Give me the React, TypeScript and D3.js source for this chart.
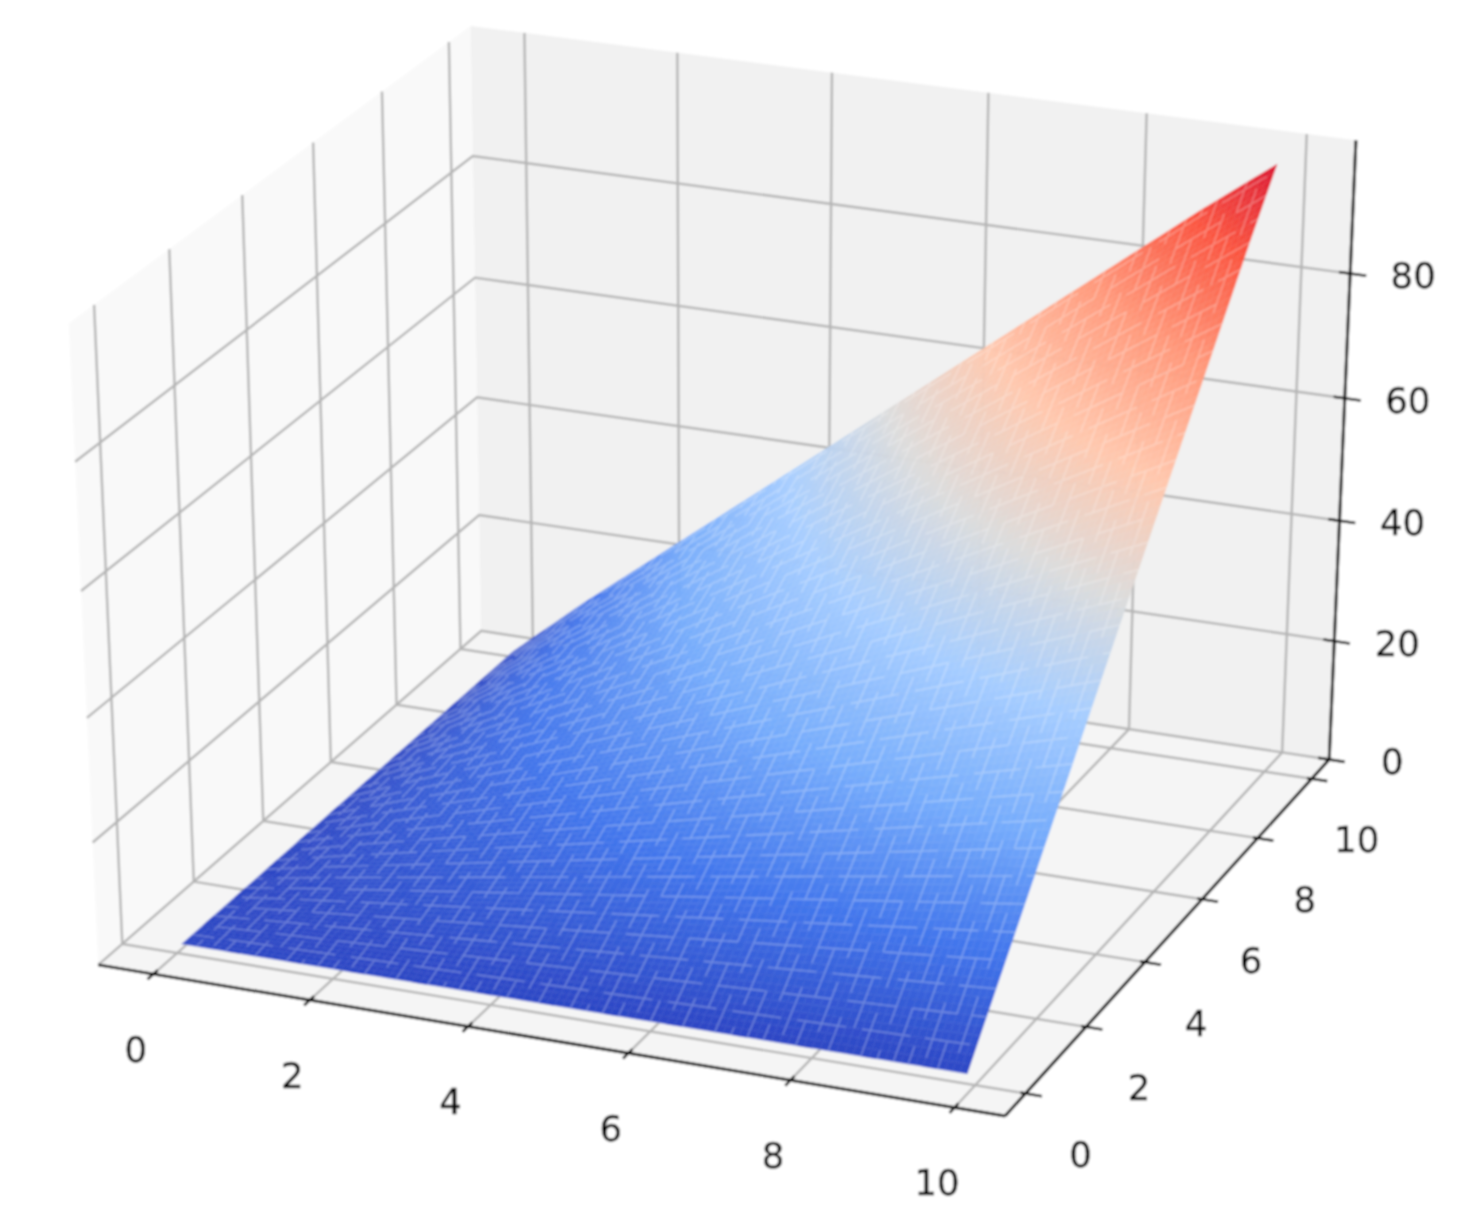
import React, { useEffect, useRef } from 'react';
import * as d3 from 'd3';

const xTicks = [0, 2, 4, 6, 8, 10];
const yTicks = [0, 2, 4, 6, 8, 10];
const zTicks = [0, 20, 40, 60, 80];
const meshX = [0.06, 1, 2, 3, 4, 5, 6, 7, 8, 9, 9.9];
const meshY = [0, 1, 2, 3, 4, 5, 6, 7, 8, 9, 9.9];
// height read at each mesh node, rows are y, columns are x
const meshZ = [
  [0, 0, 0, 0, 0, 0, 0, 0, 0, 0, 0],
  [0, 1, 2, 3, 4, 5, 6, 7, 8, 9, 9.9],
  [0, 2, 4, 6, 8, 10, 12, 14, 16, 18, 19.8],
  [0, 3, 6, 9, 12, 15, 18, 21, 24, 27, 29.7],
  [0, 4, 8, 12, 16, 20, 24, 28, 32, 36, 39.6],
  [0, 5, 10, 15, 20, 25, 30, 35, 40, 45, 49.5],
  [0, 6, 12, 18, 24, 30, 36, 42, 48, 54, 59.4],
  [0, 7, 14, 21, 28, 35, 42, 49, 56, 63, 69.3],
  [0, 8, 16, 24, 32, 40, 48, 56, 64, 72, 79.2],
  [0, 9, 18, 27, 36, 45, 54, 63, 72, 81, 89.1],
  [0, 9.9, 19.8, 29.7, 39.6, 49.5, 59.4, 69.3, 79.2, 89.1, 97.6],
];
const colorStops = ['#2c46c4', '#4276ec', '#76acfc', '#a6cdff', '#dcdcdc', '#ffc8ae', '#ff9a7c', '#fb5540', '#d40a30'];

const xDomain = [-0.71, 10.61];
const yDomain = [-0.66, 10.66];
const zDomain = [0, 101];
// the sheet floats a little above the floor in the picture
const surfaceLift = 1.6;

// camera and screen fit, matched to the corners of the box in the picture
const view = { elev: 28, azim: -68, dist: 10, boxZ: 0.95, sx: 9661.26, tx: 728.41, sy: -7508.11, ty: 551.74 };

const makeCamera = ({ elev, azim, dist, boxZ }) => {
  const e = (elev * Math.PI) / 180;
  const a = (azim * Math.PI) / 180;
  const n = [Math.cos(e) * Math.cos(a), Math.cos(e) * Math.sin(a), Math.sin(e)];
  const u = [-Math.sin(a), Math.cos(a), 0];
  const v = [n[1] * u[2] - n[2] * u[1], n[2] * u[0] - n[0] * u[2], n[0] * u[1] - n[1] * u[0]];
  return (q) => {
    const p = [q[0], q[1], q[2] * boxZ];
    const d = dist - (n[0] * p[0] + n[1] * p[1] + n[2] * p[2]);
    return [
      (u[0] * p[0] + u[1] * p[1]) / d,
      (v[0] * p[0] + v[1] * p[1] + v[2] * p[2]) / d,
      d,
    ];
  };
};

const App = () => {
  const svgRef = useRef();

  useEffect(() => {
    const svg = d3.select(svgRef.current);
    svg.selectAll('*').remove();

    const cam = makeCamera(view);

    const xScale = d3.scaleLinear().domain(xDomain).range([-0.5, 0.5]);
    const yScale = d3.scaleLinear().domain(yDomain).range([-0.5, 0.5]);
    const zScale = d3.scaleLinear().domain(zDomain).range([-0.5, 0.5]);
    const project = (x, y, z) => {
      const p = cam([xScale(x), yScale(y), zScale(z)]);
      return [view.sx * p[0] + view.tx, view.sy * p[1] + view.ty, p[2]];
    };

    const color = d3.scaleLinear()
      .domain(colorStops.map((_, i) => (i * 100) / (colorStops.length - 1)))
      .range(colorStops)
      .interpolate(d3.interpolateRgb);

    const line = d3.line();
    const path = (pts, closed) => line(pts.map((p) => project(p[0], p[1], p[2]))) + (closed ? 'Z' : '');

    const defs = svg.append('defs');
    defs.append('filter').attr('id', 'soft').attr('x', 0).attr('y', 0).attr('width', 1).attr('height', 1)
      .append('feGaussianBlur').attr('stdDeviation', 0.9);

    const g = svg.append('g').attr('filter', 'url(#soft)');
    g.append('rect').attr('width', 1465).attr('height', 1211).attr('fill', '#fff');

    const [x0, x1] = xDomain;
    const [y0, y1] = yDomain;
    const [z0, z1] = zDomain;

    // panes
    g.append('path').attr('d', path([[x0, y0, z0], [x0, y1, z0], [x0, y1, z1], [x0, y0, z1]], true)).attr('fill', '#f9f9f9');
    g.append('path').attr('d', path([[x0, y1, z0], [x1, y1, z0], [x1, y1, z1], [x0, y1, z1]], true)).attr('fill', '#f1f1f1');
    g.append('path').attr('d', path([[x0, y0, z0], [x1, y0, z0], [x1, y1, z0], [x0, y1, z0]], true)).attr('fill', '#f5f5f5');

    // grid
    const gridLines = [
      ...xTicks.map((t) => [[t, y0, z0], [t, y1, z0], [t, y1, z1]]),
      ...yTicks.map((t) => [[x1, t, z0], [x0, t, z0], [x0, t, z1]]),
      ...zTicks.map((t) => [[x1, y1, t], [x0, y1, t], [x0, y0, t]]),
    ];
    g.selectAll('.grid').data(gridLines).enter().append('path')
      .attr('class', 'grid')
      .attr('d', (d) => path(d, false))
      .attr('fill', 'none')
      .attr('stroke', '#b4b4b4')
      .attr('stroke-width', 2.4);

    // surface, each mesh cell is cut finer so the colour runs smoothly across it
    const steps = 10;
    const cells = [];
    const seams = [];
    for (let j = 0; j < meshY.length - 1; j += 1) {
      for (let i = 0; i < meshX.length - 1; i += 1) {
        const xs = d3.scaleLinear().domain([0, steps]).range([meshX[i], meshX[i + 1]]);
        const ys = d3.scaleLinear().domain([0, steps]).range([meshY[j], meshY[j + 1]]);
        const node = (a, b) => {
          const low = d3.interpolateNumber(meshZ[j][i], meshZ[j][i + 1])(a / steps);
          const high = d3.interpolateNumber(meshZ[j + 1][i], meshZ[j + 1][i + 1])(a / steps);
          return [xs(a), ys(b), d3.interpolateNumber(low, high)(b / steps) + surfaceLift];
        };
        for (let b = 0; b < steps; b += 1) {
          for (let a = 0; a < steps; a += 1) {
            const corners = [node(a, b), node(a + 1, b), node(a + 1, b + 1), node(a, b + 1)];
            const mid = d3.mean(corners, (c) => c[2]) - surfaceLift;
            const depth = d3.mean(corners, (c) => project(c[0], c[1], c[2])[2]);
            cells.push({ corners, mid, depth });
            // light broken lines along the cell edges
            const A = i * steps + a;
            const B = j * steps + b;
            if (B % 3 === 0 && (A + B) % 8 < 6) seams.push([corners[0], corners[1]]);
            if (A % 2 === 0 && (B + A * 2) % 9 < 6) seams.push([corners[0], corners[3]]);
          }
        }
      }
    }
    cells.sort((a, b) => b.depth - a.depth);
    g.append('g').selectAll('path').data(cells).enter().append('path')
      .attr('d', (d) => path(d.corners, true))
      .attr('fill', (d) => color(d.mid))
      .attr('stroke', (d) => color(d.mid))
      .attr('stroke-width', 0.3);
    g.append('path')
      .attr('d', seams.map((s) => path(s, false)).join(''))
      .attr('fill', 'none')
      .attr('stroke', '#fff')
      .attr('stroke-opacity', 0.24)
      .attr('stroke-width', 1.8);

    // axes
    const axisLines = [
      [[x0, y0, z0], [x1, y0, z0]],
      [[x1, y0, z0], [x1, y1, z0]],
      [[x1, y1, z0], [x1, y1, z1]],
    ];
    g.selectAll('.axis').data(axisLines).enter().append('path')
      .attr('class', 'axis')
      .attr('d', (d) => path(d, false))
      .attr('fill', 'none')
      .attr('stroke', '#000')
      .attr('stroke-width', 3);

    const tickLines = [
      ...xTicks.map((t) => [[t, y0 + 0.12, z0], [t, y0 - 0.16, z0]]),
      ...yTicks.map((t) => [[x1 - 0.06, t, z0], [x1 + 0.2, t, z0]]),
      ...zTicks.map((t) => [[x1 - 0.14, y1, t], [x1 + 0.2, y1, t]]),
    ];
    g.selectAll('.tick').data(tickLines).enter().append('path')
      .attr('class', 'tick')
      .attr('d', (d) => path(d, false))
      .attr('stroke', '#000')
      .attr('stroke-width', 2.6);

    const labels = [
      ...xTicks.map((t) => ({ t, p: project(t, y0, z0), dx: -17.5, dy: 75 })),
      ...yTicks.map((t) => ({ t, p: project(x1, t, z0), dx: 55 - t, dy: 61 })),
      ...zTicks.map((t) => ({ t, p: project(x1, y1, t), dx: 63, dy: 2 })),
    ];
    g.selectAll('.label').data(labels).enter().append('text')
      .attr('class', 'label')
      .attr('x', (d) => d.p[0] + d.dx)
      .attr('y', (d) => d.p[1] + d.dy)
      .attr('text-anchor', 'middle')
      .attr('dominant-baseline', 'central')
      .attr('font-family', 'DejaVu Sans')
      .attr('font-size', 35.5)
      .attr('fill', '#000')
      .attr('stroke', '#000')
      .attr('stroke-width', 0.4)
      .text((d) => d.t);
  }, []);

  return (
    <svg ref={svgRef} width={1465} height={1211} style={{ position: 'absolute', left: 0, top: 0 }}></svg>
  );
};

export default App;
